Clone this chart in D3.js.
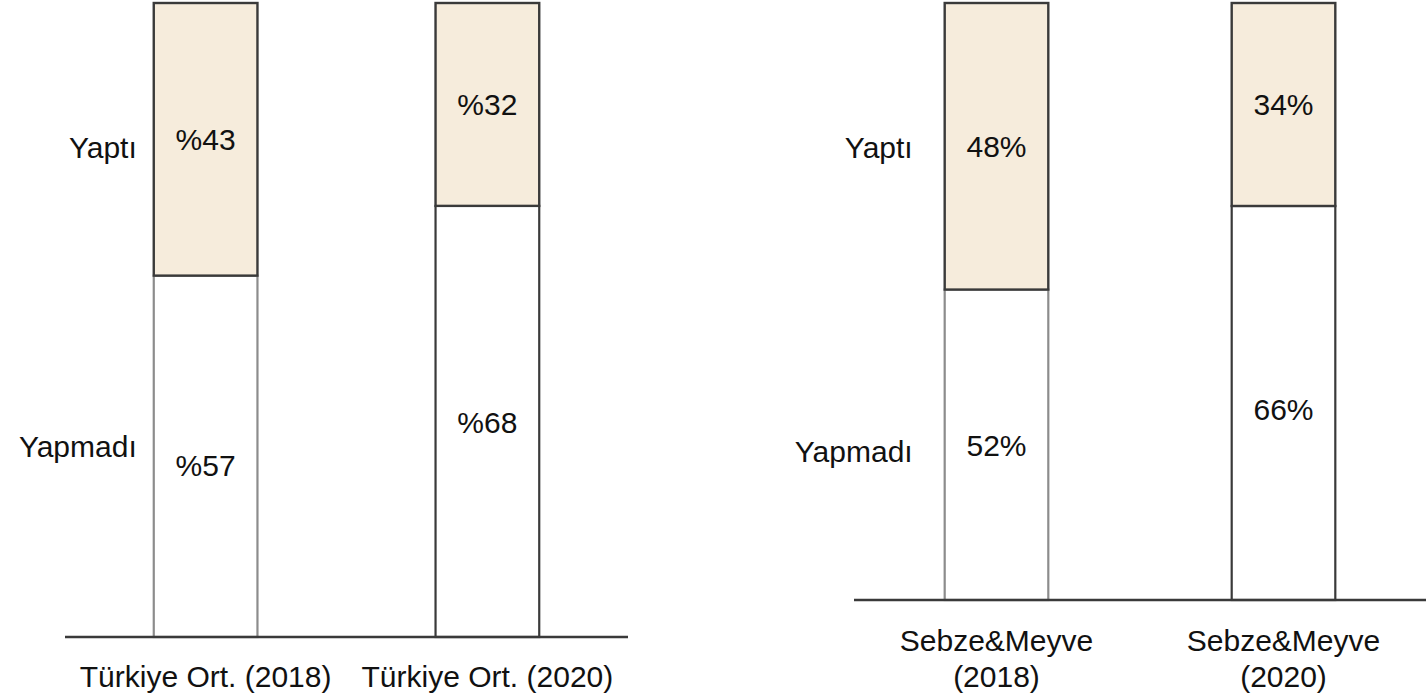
<!DOCTYPE html>
<html>
<head>
<meta charset="utf-8">
<script src="https://cdn.jsdelivr.net/npm/d3@7"></script>
<style>
  html, body { margin: 0; padding: 0; background: #fff; }
  svg { display: block; font-family: "Liberation Sans", Arial, sans-serif; }
</style>
</head>
<body>
<svg id="chart" width="1426" height="697"></svg>
<script>
// ---- data ----
const leftCategories = ["Türkiye Ort. (2018)", "Türkiye Ort. (2020)"];
const leftYapti = [43, 32];
const leftYapmadi = [57, 68];
const leftYaptiLabels = ["%43", "%32"];
const leftYapmadiLabels = ["%57", "%68"];

const rightCategories = [["Sebze&Meyve", "(2018)"], ["Sebze&Meyve", "(2020)"]];
const rightYapti = [48, 34];
const rightYapmadi = [52, 66];
const rightYaptiLabels = ["48%", "34%"];
const rightYapmadiLabels = ["52%", "66%"];

const seriesNames = ["Yaptı", "Yapmadı"];

// ---- drawing ----
const svg = d3.select("#chart");
const FILL = "#f6ecdc";
const DARK = "#3a3a3a";
const GRAY = "#8c8c8c";
const FS = 30;

function panel(cfg) {
  const x = d3.scaleBand().domain(d3.range(cfg.cats.length))
    .range([cfg.x0, cfg.x1]).paddingInner(cfg.pi).paddingOuter(cfg.po);
  const y = d3.scaleLinear().domain([0, 100]).range([cfg.base, cfg.top]);
  const g = svg.append("g");

  cfg.cats.forEach((c, i) => {
    const bx = x(i), bw = x.bandwidth();
    const ya = cfg.yapti[i], yn = cfg.yapmadi[i];
    const botStroke = i === 0 ? GRAY : DARK;
    g.append("rect").attr("x", bx).attr("y", y(yn)).attr("width", bw)
      .attr("height", y(0) - y(yn)).attr("fill", "#fff")
      .attr("stroke", botStroke).attr("stroke-width", 2.2);
    g.append("rect").attr("x", bx).attr("y", y(yn + ya)).attr("width", bw)
      .attr("height", y(yn) - y(yn + ya)).attr("fill", FILL)
      .attr("stroke", DARK).attr("stroke-width", 2.4);
    g.append("text").attr("x", bx + bw / 2).attr("y", (y(yn) + y(yn + ya)) / 2)
      .attr("text-anchor", "middle").attr("dominant-baseline", "central")
      .attr("font-size", FS).attr("fill", "#111").text(cfg.yaptiLabels[i]);
    g.append("text").attr("x", bx + bw / 2).attr("y", (y(0) + y(yn)) / 2 + cfg.botOff[i])
      .attr("text-anchor", "middle").attr("dominant-baseline", "central")
      .attr("font-size", FS).attr("fill", "#111").text(cfg.yapmadiLabels[i]);
    const lines = Array.isArray(c) ? c : [c];
    lines.forEach((ln, k) => {
      g.append("text").attr("x", bx + bw / 2)
        .attr("y", cfg.catY + k * 36 - (lines.length - 1) * 36)
        .attr("text-anchor", "middle").attr("dominant-baseline", "central")
        .attr("font-size", FS).attr("fill", "#111").text(ln);
    });
  });

  g.append("line").attr("x1", cfg.x0).attr("x2", cfg.x1)
    .attr("y1", y(0)).attr("y2", y(0))
    .attr("stroke", DARK).attr("stroke-width", 2.5);

  const a0 = cfg.yapti[0], n0 = cfg.yapmadi[0];
  g.append("text").attr("x", x(0) - cfg.labGap)
    .attr("y", (y(n0) + y(n0 + a0)) / 2 + cfg.serOff[0])
    .attr("text-anchor", "end").attr("dominant-baseline", "central")
    .attr("font-size", FS).attr("fill", "#111").text(seriesNames[0]);
  g.append("text").attr("x", x(0) - cfg.labGap)
    .attr("y", (y(0) + y(n0)) / 2 + cfg.serOff[1])
    .attr("text-anchor", "end").attr("dominant-baseline", "central")
    .attr("font-size", FS).attr("fill", "#111").text(seriesNames[1]);
}

panel({
  cats: leftCategories, yapti: leftYapti, yapmadi: leftYapmadi,
  yaptiLabels: leftYaptiLabels, yapmadiLabels: leftYapmadiLabels,
  x0: 65, x1: 628, pi: 0.632, po: 0.315, base: 637, top: 3,
  catY: 676, labGap: 17, serOff: [8, -10], botOff: [9, 1]
});
panel({
  cats: rightCategories, yapti: rightYapti, yapmadi: rightYapmadi,
  yaptiLabels: rightYaptiLabels, yapmadiLabels: rightYapmadiLabels,
  x0: 854, x1: 1426, pi: 0.639, po: 0.316, base: 600, top: 3,
  catY: 676, labGap: 32, serOff: [1, 7], botOff: [1, 7]
});
</script>
</body>
</html>
